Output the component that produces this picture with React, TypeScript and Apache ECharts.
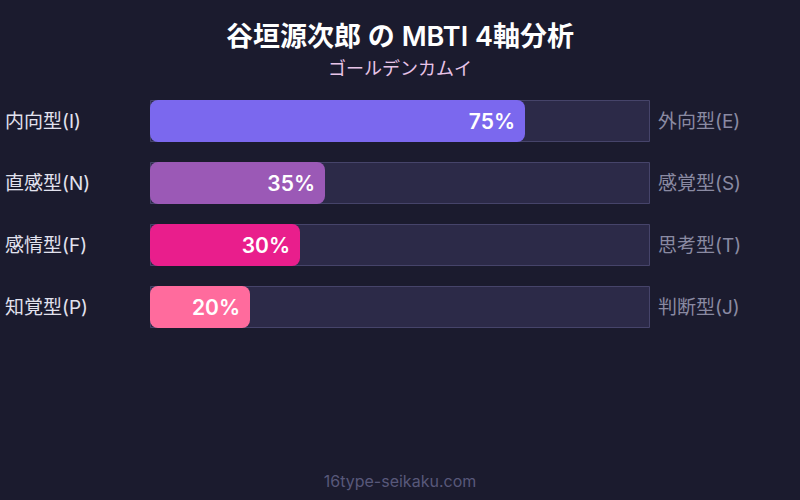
import React, { useEffect, useRef } from "react";
import * as echarts from "echarts";

const leftLabels = ["内向型(I)", "直感型(N)", "感情型(F)", "知覚型(P)"];
const rightLabels = ["外向型(E)", "感覚型(S)", "思考型(T)", "判断型(J)"];
const values = [75, 35, 30, 20];
const barColors = ["#7b68ee", "#9b59b6", "#e91e8c", "#ff6b9d"];
const trackValues = [100, 100, 100, 100];

const FONT = "Inter, 'Noto Sans CJK JP', sans-serif";

const App = () => {
  const chartRef = useRef<HTMLDivElement>(null);

  useEffect(() => {
    if (!chartRef.current) return;
    const chart = echarts.init(chartRef.current, null, { renderer: "svg" });

    const options = {
      animation: false,
      backgroundColor: "#1b1b2e",
      textStyle: { fontFamily: FONT },
      title: [
        {
          text: "谷垣源次郎 の MBTI 4軸分析",
          subtext: "ゴールデンカムイ",
          left: "center",
          top: 18,
          itemGap: 10,
          textStyle: { color: "#ffffff", fontSize: 27, fontWeight: 600, fontFamily: FONT },
          subtextStyle: { color: "#e8c4e8", fontSize: 18, fontFamily: FONT },
        },
        {
          text: "16type-seikaku.com",
          left: "center",
          bottom: 6,
          textStyle: { color: "#58587a", fontSize: 16, fontWeight: "normal", fontFamily: FONT },
        },
      ],
      grid: { left: 150, right: 150, top: 90, height: 248 },
      xAxis: {
        type: "value",
        min: 0,
        max: 100,
        show: false,
      },
      yAxis: [
        {
          type: "category",
          data: leftLabels,
          inverse: true,
          axisLine: { show: false },
          axisTick: { show: false },
          axisLabel: {
            color: "#e2e2ee",
            fontSize: 19,
            align: "left",
            margin: 145,
            fontFamily: FONT,
          },
        },
        {
          type: "category",
          data: rightLabels,
          inverse: true,
          position: "right",
          axisLine: { show: false },
          axisTick: { show: false },
          axisLabel: {
            color: "#8a8aa2",
            fontSize: 19,
            margin: 8,
            fontFamily: FONT,
          },
        },
      ],
      series: [
        {
          type: "bar",
          data: trackValues,
          barWidth: 42,
          barGap: "-100%",
          silent: true,
          itemStyle: { color: "#2c2a48", borderColor: "#46446a", borderWidth: 1 },
          z: 1,
        },
        {
          type: "bar",
          data: values.map((v, i) => ({ value: v, itemStyle: { color: barColors[i] } })),
          barWidth: 42,
          itemStyle: { borderRadius: 8 },
          label: {
            show: true,
            position: "insideRight",
            distance: 10,
            formatter: "{c}%",
            color: "#ffffff",
            fontSize: 21,
            fontWeight: 600,
            fontFamily: FONT,
          },
          z: 2,
        },
      ],
    };

    chart.setOption(options);
    return () => chart.dispose();
  }, []);

  return (
    <div
      ref={chartRef}
      style={{ position: "fixed", left: 0, top: 0, width: "800px", height: "500px" }}
    />
  );
};

export default App;
